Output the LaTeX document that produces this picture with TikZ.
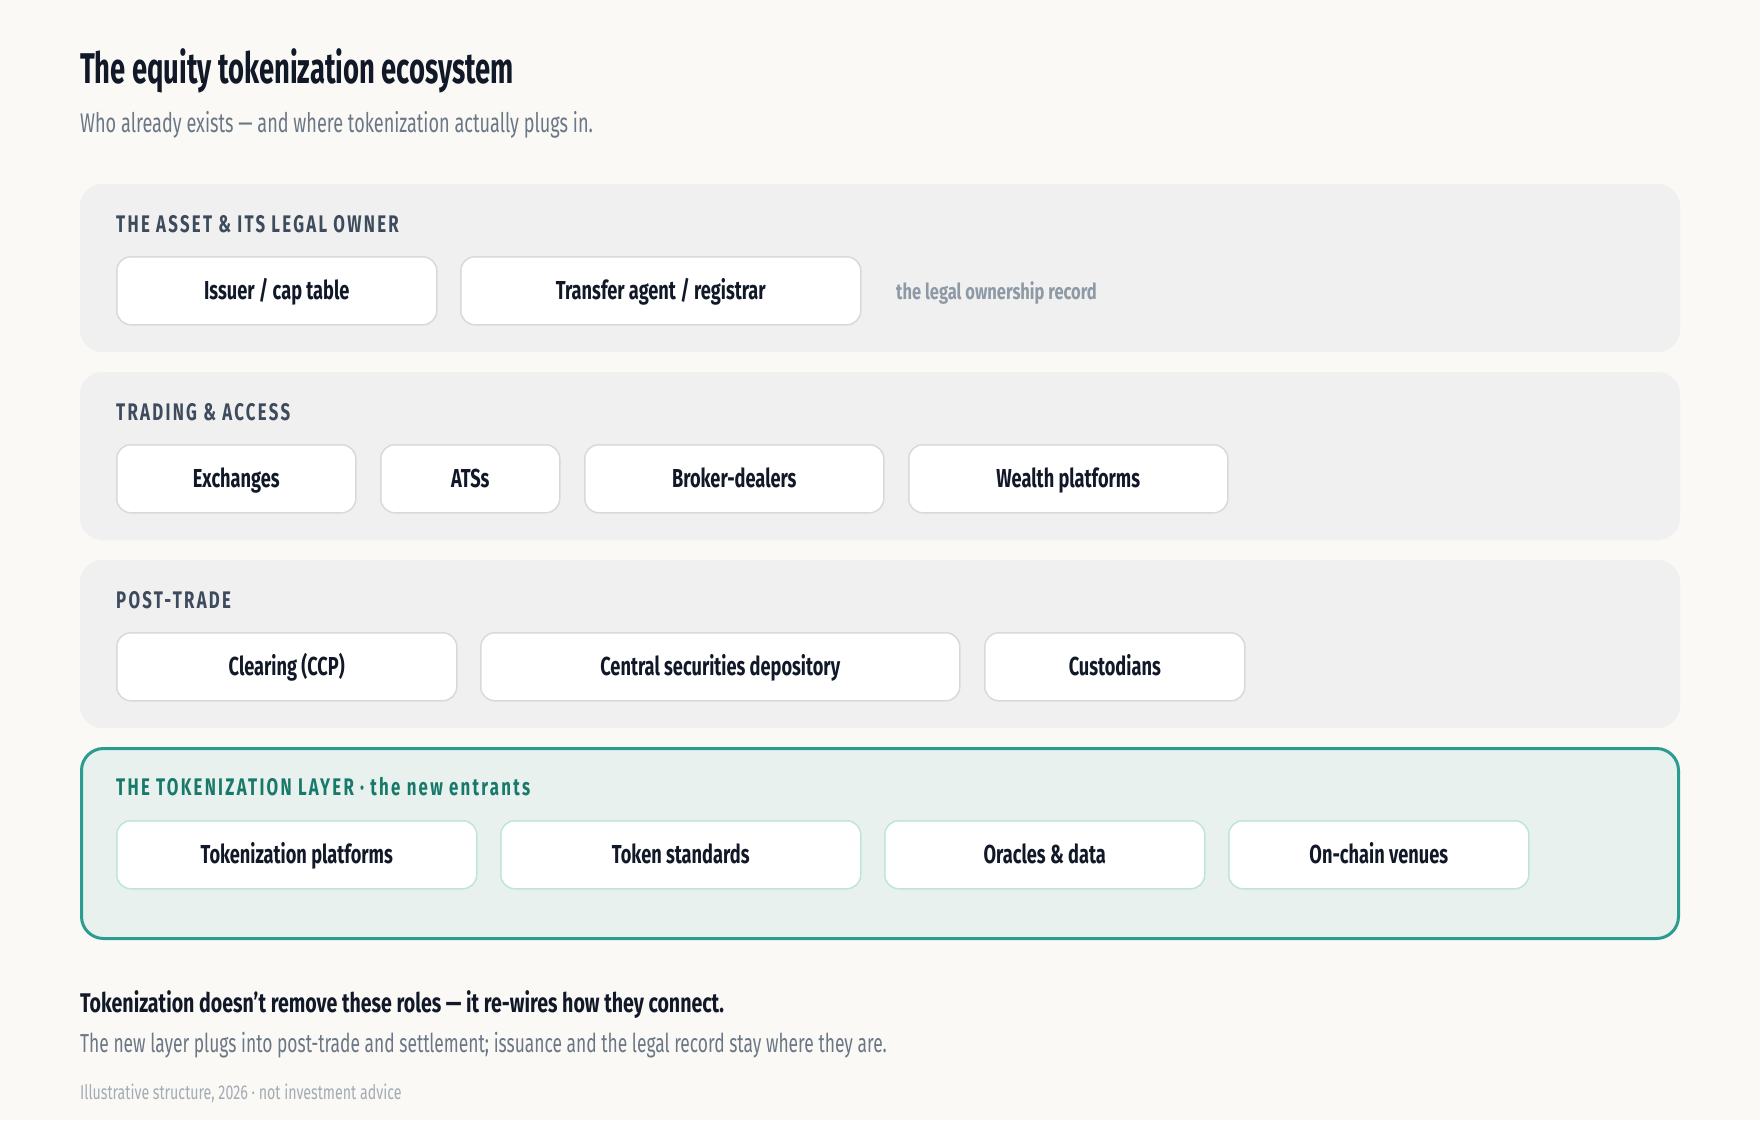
\documentclass[tikz,border=0pt]{standalone}
\usepackage{fontspec}
\setmainfont{Fira Sans}[FakeStretch=0.67]
\newfontfamily\titlefont{Fira Sans}[FakeStretch=0.637]
\newfontfamily\boxfont{Fira Sans}[FakeStretch=0.70]
\newfontfamily\takefont{Fira Sans}[FakeStretch=0.725]
\newfontfamily\footfont{Fira Sans}[FakeStretch=0.71]
\newfontfamily\notefont{Fira Sans}[FakeStretch=0.75]
\newfontfamily\lblfont{Fira Sans}[FakeStretch=0.70, LetterSpace=9.5]
\definecolor{bg}{HTML}{FAF9F6}
\definecolor{panelfill}{HTML}{F0F0F0}
\definecolor{ink}{HTML}{111827}
\definecolor{lblgray}{HTML}{3D4B5C}
\definecolor{boxline}{HTML}{D5DADF}
\definecolor{subgray}{HTML}{6B7785}
\definecolor{notegray}{HTML}{8D99A5}
\definecolor{footgray}{HTML}{A3ABB3}
\definecolor{teal}{HTML}{2A9D8F}
\definecolor{tealfill}{HTML}{E8F1EE}
\definecolor{teallbl}{HTML}{17796A}
\definecolor{tealbox}{HTML}{BFE4DC}
\tikzset{
  panel/.style={fill=panelfill, rounded corners=22pt},
  tpanel/.style={fill=tealfill, draw=teal, line width=3pt, rounded corners=22pt},
  rolebox/.style={rectangle, fill=white, draw=boxline, line width=1.5pt, rounded corners=14pt,
    minimum height=68pt, inner sep=0pt, anchor=north west, text=ink,
    font=\boxfont\bfseries\fontsize{26}{30}\selectfont, text height=18pt, text depth=0pt},
  tbox/.style={rolebox, draw=tealbox},
  plabel/.style={anchor=base west, inner sep=0pt, text=lblgray, font=\lblfont\bfseries\fontsize{24}{28}\selectfont},
  textline/.style={anchor=base west, inner sep=0pt},
}
\begin{document}
\begin{tikzpicture}[x=1pt, y=-1pt]
\fill[bg] (0,0) rectangle (1760,1120);
\useasboundingbox (0,0) rectangle (1760,1120);

\node[textline, text=ink, font=\titlefont\bfseries\fontsize{43}{50}\selectfont] (title) at (80,83) {The equity tokenization ecosystem};
\node[textline, text=subgray, font=\fontsize{27}{32}\selectfont] (subtitle) at (80,132) {Who already exists — and where tokenization actually plugs in.};

% Panel 1
\fill[panel] (80,184) rectangle (1680,352);
\node[plabel] (l1) at (116,232) {THE ASSET \& ITS LEGAL OWNER};
\node[rolebox, minimum width=320pt] (issuer) at (116,256) {Issuer / cap table};
\node[rolebox, minimum width=400pt] (transfer) at (460,256) {Transfer agent / registrar};
\node[textline, text=notegray, font=\notefont\bfseries\fontsize{22}{26}\selectfont] (note) at (896,299) {the legal ownership record};

% Panel 2
\fill[panel] (80,372) rectangle (1680,540);
\node[plabel] (l2) at (116,420) {TRADING \& ACCESS};
\node[rolebox, minimum width=239pt] (exch) at (116,444) {Exchanges};
\node[rolebox, minimum width=179pt] (ats) at (380,444) {ATSs};
\node[rolebox, minimum width=299pt] (broker) at (584,444) {Broker-dealers};
\node[rolebox, minimum width=319pt] (wealth) at (908,444) {Wealth platforms};

% Panel 3
\fill[panel] (80,560) rectangle (1680,728);
\node[plabel] (l3) at (116,608) {POST-TRADE};
\node[rolebox, minimum width=340pt] (clear) at (116,632) {Clearing (CCP)};
\node[rolebox, minimum width=479pt] (csd) at (480,632) {Central securities depository};
\node[rolebox, minimum width=260pt] (cust) at (984,632) {Custodians};

% Panel 4
\draw[tpanel] (81.5,748.5) rectangle (1678.5,938.5);
\node[plabel, text=teallbl] (l4) at (116,795) {THE TOKENIZATION LAYER · the new entrants};
\node[tbox, minimum width=360pt] (tplat) at (116,820) {Tokenization platforms};
\node[tbox, minimum width=360pt] (tstd) at (500,820) {Token standards};
\node[tbox, minimum width=320pt] (orac) at (884,820) {Oracles \& data};
\node[tbox, minimum width=300pt] (venue) at (1228,820) {On-chain venues};

% Bottom text
\node[textline, text=ink, font=\takefont\bfseries\fontsize{27}{32}\selectfont] (take) at (80,1012) {Tokenization doesn’t remove these roles — it re-wires how they connect.};
\node[textline, text=subgray, font=\fontsize{26}{30}\selectfont] (expl) at (80,1052) {The new layer plugs into post-trade and settlement; issuance and the legal record stay where they are.};
\node[textline, text=footgray, font=\footfont\fontsize{20}{24}\selectfont] (foot) at (80,1099) {Illustrative structure, 2026 · not investment advice};
\end{tikzpicture}
\end{document}
